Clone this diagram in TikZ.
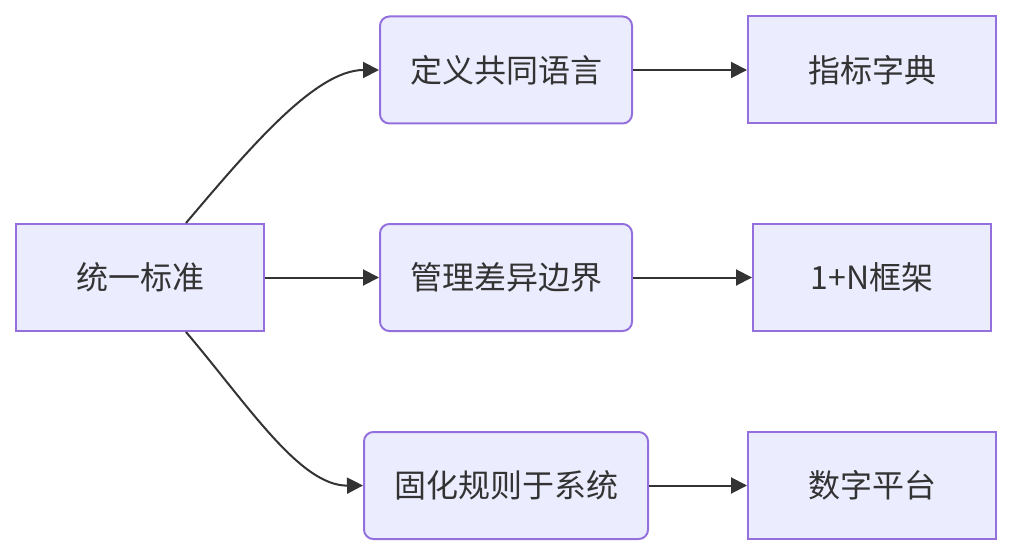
\documentclass[tikz,border=0pt]{standalone}
\usepackage{fontspec}
\setmainfont{Noto Sans CJK SC}
\usetikzlibrary{positioning,arrows.meta,calc}
\definecolor{NodeFill}{HTML}{ECECFF}
\definecolor{NodeLine}{HTML}{9370DB}
\definecolor{LinkGray}{HTML}{333333}

\tikzset{
  plainbox/.style={draw=NodeLine, line width=1.5pt, fill=NodeFill, text=LinkGray,
    minimum height=80.25pt, font=\fontsize{24}{29}\selectfont, inner sep=0pt},
  roundbox/.style={plainbox, rounded corners=7pt},
  link/.style={-{Triangle[length=12pt, width=12pt]}, line width=1.5pt, draw=LinkGray}
}

\begin{document}
\begin{tikzpicture}[x=0.75pt, y=-0.75pt]
  \useasboundingbox (0,0) rectangle (1012,556);
  \node[plainbox, minimum width=186pt] (std) at (140,277.5) {统一标准};
  \node[roundbox, minimum width=189pt] (lang) at (506,70) {定义共同语言};
  \node[roundbox, minimum width=189pt] (diff) at (506,277.5) {管理差异边界};
  \node[roundbox, minimum width=213pt] (sys) at (506,485.5) {固化规则于系统};
  \node[plainbox, minimum width=186pt] (dict) at (872,70) {指标字典};
  \node[plainbox, minimum width=178.5pt] (frame) at (872,277.5) {1+N框架};
  \node[plainbox, minimum width=186pt] (plat) at (872,485.5) {数字平台};

  \coordinate (up) at ([xshift=34.5pt]std.north);
  \coordinate (down) at ([xshift=34.5pt]std.south);
  \draw[link] (up) .. controls (248,150) and (315,70) .. (lang.west);
  \draw[link] (std) -- (diff);
  \draw[link] (down) .. controls (248,405) and (300,486) .. (sys.west);
  \draw[link] (lang) -- (dict);
  \draw[link] (diff) -- (frame);
  \draw[link] (sys) -- (plat);
\end{tikzpicture}
\end{document}
